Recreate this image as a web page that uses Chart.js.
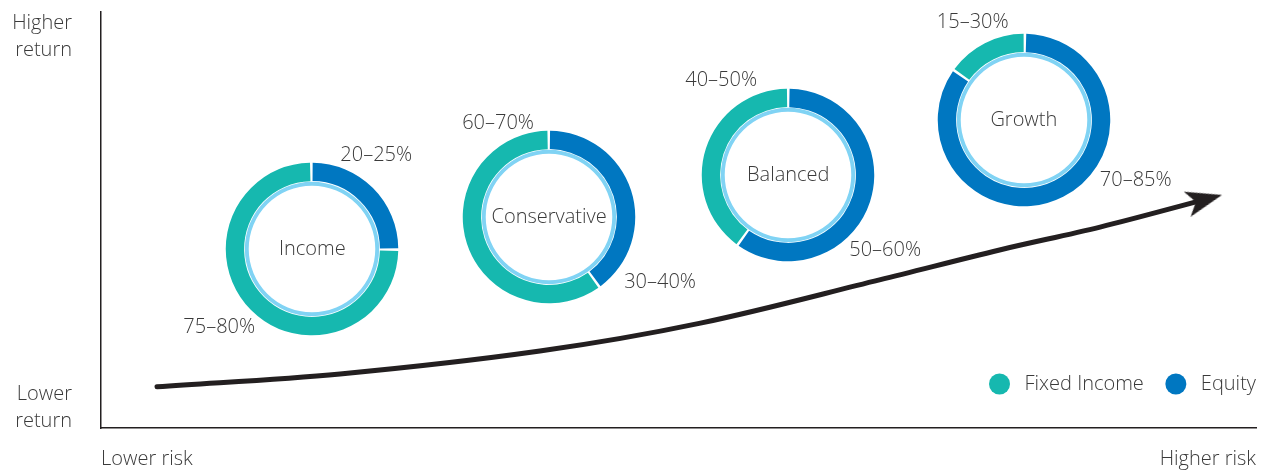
<!DOCTYPE html>
<html>
<head>
<meta charset="utf-8">
<script src="https://cdn.jsdelivr.net/npm/chart.js@4"></script>
<style>
  body { margin: 0; background: #fff; }
  #wrap { position: relative; width: 1267px; height: 472px; }
  #wrap canvas { position: absolute; }
</style>
</head>
<body>
<div id="wrap"><canvas id="main" width="1267" height="472"></canvas></div>
<script>
// portfolios, placed on the risk / return plane
var portfolios = ['Income', 'Conservative', 'Balanced', 'Growth'];
var portfolioRisk = [18.3, 38.8, 59.5, 79.9];
var portfolioReturn = [43.0, 50.7, 60.8, 74.0];
var equity = [25, 40, 60, 85];
var fixedIncome = [75, 60, 40, 15];
var equityLabels = ['20–25%', '30–40%', '50–60%', '70–85%'];
var fixedLabels = ['75–80%', '60–70%', '40–50%', '15–30%'];

// risk / return curve
var curveRisk = [4.85, 20.7, 38.0, 51.9, 67.4, 77.8, 86.5, 95.55];
var curveReturn = [9.9, 13.0, 18.5, 25.2, 35.6, 42.8, 48.3, 54.9];

var TEAL = '#16b8af';
var BLUE = '#0077c1';
var RING = '#80d3f4';
var TEXT = '#3a3a3a';
var FONT = '300 20px "Open Sans", "Noto Sans", sans-serif';

// where each range label sits relative to its doughnut centre
var eqOff = [[28, -94], [75, 65], [61, 75], [76, 60]];
var fiOff = [[-129, 78], [-87, -94], [-103, -95], [-87, -98]];

// notched arrow head, used as the point style of the curve's last point
var head = document.createElement('canvas');
head.width = 40; head.height = 40;
(function () {
  var g = head.getContext('2d');
  g.fillStyle = '#231f20';
  g.beginPath();
  g.moveTo(20, 2); g.lineTo(33, 38); g.lineTo(20, 29); g.lineTo(7, 38);
  g.closePath(); g.fill();
})();

var pts = curveRisk.map(function (x, i) { return {x: x, y: curveReturn[i]}; });
var last = pts.length - 1;

var textPlugin = {
  id: 'texts',
  afterDraw: function (chart) {
    var ctx = chart.ctx, xs = chart.scales.x, ys = chart.scales.y;
    ctx.save();
    ctx.fillStyle = TEXT;
    ctx.font = FONT;
    ctx.textBaseline = 'middle';

    ctx.textAlign = 'right';
    ctx.fillText('Higher', 72, 23);
    ctx.fillText('return', 72, 50);
    ctx.fillText('Lower', 72, 394);
    ctx.fillText('return', 72, 421);
    ctx.fillText('Higher risk', xs.right, 459);
    ctx.textAlign = 'left';
    ctx.fillText('Lower risk', xs.left, 459);

    portfolios.forEach(function (name, i) {
      var cx = xs.getPixelForValue(portfolioRisk[i]);
      var cy = ys.getPixelForValue(portfolioReturn[i]);
      ctx.textAlign = 'center';
      ctx.fillText(name, cx, cy);
      ctx.textAlign = 'left';
      ctx.fillText(equityLabels[i], cx + eqOff[i][0], cy + eqOff[i][1]);
      ctx.fillText(fixedLabels[i], cx + fiOff[i][0], cy + fiOff[i][1]);
    });

    // legend
    var lx = xs.right, ly = 384;
    ctx.textAlign = 'right';
    ctx.fillText('Equity', lx, ly);
    var w = ctx.measureText('Equity').width;
    ctx.fillStyle = BLUE;
    ctx.beginPath(); ctx.arc(lx - w - 25, ly, 10.5, 0, Math.PI * 2); ctx.fill();
    ctx.fillStyle = TEXT;
    var fx = lx - w - 57;
    ctx.fillText('Fixed Income', fx, ly);
    var w2 = ctx.measureText('Fixed Income').width;
    ctx.fillStyle = TEAL;
    ctx.beginPath(); ctx.arc(fx - w2 - 25, ly, 10.5, 0, Math.PI * 2); ctx.fill();
    ctx.restore();
  }
};

var main = new Chart(document.getElementById('main'), {
  type: 'line',
  data: {
    datasets: [{
      data: pts,
      borderColor: '#231f20',
      borderWidth: 5,
      borderCapStyle: 'round',
      tension: 0.35,
      pointRadius: pts.map(function (p, i) { return i === last ? 18 : 0; }),
      pointHoverRadius: 0,
      pointStyle: head,
      pointRotation: pts.map(function (p, i) { return i === last ? 75 : 0; }),
      pointBorderWidth: 0,
      clip: false
    }]
  },
  options: {
    responsive: false,
    animation: false,
    layout: { autoPadding: false, padding: { left: 101, right: 11, top: 12, bottom: 44 } },
    plugins: { legend: { display: false }, tooltip: { enabled: false } },
    events: [],
    scales: {
      x: {
        type: 'linear', min: 0, max: 100,
        grid: { display: false, drawTicks: false },
        ticks: { display: false },
        border: { display: true, color: '#231f20', width: 1.5 }
      },
      y: {
        type: 'linear', min: 0, max: 100,
        grid: { display: false, drawTicks: false },
        ticks: { display: false },
        border: { display: true, color: '#231f20', width: 1.5 }
      }
    }
  },
  plugins: [textPlugin]
});

// one doughnut per portfolio, centred on its risk / return point
var wrap = document.getElementById('wrap');
var SIZE = 200;
portfolios.forEach(function (name, i) {
  var c = document.createElement('canvas');
  c.width = SIZE; c.height = SIZE;
  var cx = main.scales.x.getPixelForValue(portfolioRisk[i]);
  var cy = main.scales.y.getPixelForValue(portfolioReturn[i]);
  c.style.left = (cx - SIZE / 2) + 'px';
  c.style.top = (cy - SIZE / 2) + 'px';
  wrap.appendChild(c);
  new Chart(c, {
    type: 'doughnut',
    data: {
      labels: ['Equity', 'Fixed Income'],
      datasets: [{
        data: [equity[i], fixedIncome[i]],
        backgroundColor: [BLUE, TEAL],
        borderWidth: 0,
        spacing: 1.5,
        weight: 19
      }, {
        data: [100],
        backgroundColor: [RING],
        borderWidth: 0,
        spacing: 0,
        weight: 4
      }]
    },
    options: {
      responsive: false,
      animation: false,
      radius: 85.5,
      cutout: '74%',
      events: [],
      plugins: { legend: { display: false }, tooltip: { enabled: false } }
    }
  });
});
</script>
</body>
</html>
